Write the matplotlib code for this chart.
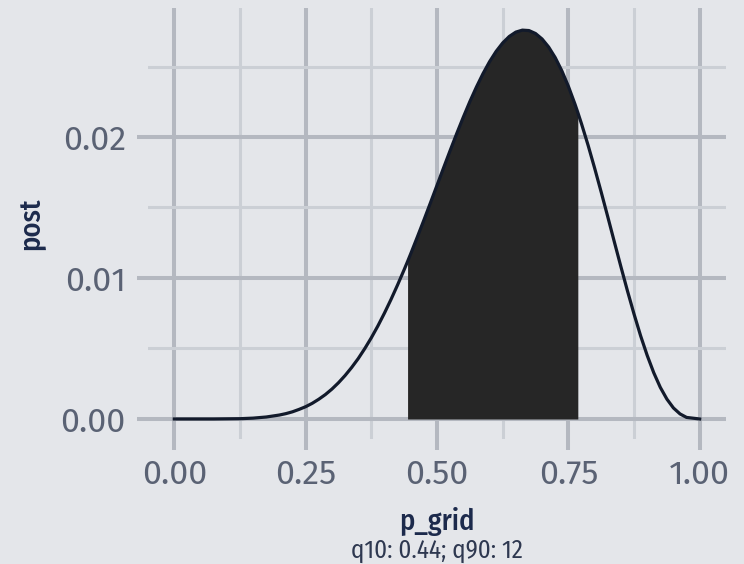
import numpy as np
import matplotlib
matplotlib.use("Agg")
import matplotlib.pyplot as plt
from matplotlib.ticker import FixedLocator

# posterior curve
p_grid = [0.000, 0.025, 0.050, 0.075, 0.100, 0.125, 0.150, 0.175, 0.200, 0.2125,
          0.225, 0.2375, 0.250, 0.2625, 0.275, 0.2875, 0.300, 0.3125, 0.325, 0.3375,
          0.350, 0.3625, 0.375, 0.3875, 0.400, 0.4125, 0.425, 0.4375, 0.444, 0.450,
          0.4625, 0.475, 0.4875, 0.500, 0.5125, 0.525, 0.5375, 0.550, 0.5625, 0.575,
          0.5875, 0.600, 0.6125, 0.625, 0.6375, 0.650, 0.6625, 0.675, 0.6875, 0.700,
          0.7125, 0.725, 0.7375, 0.750, 0.7625, 0.768, 0.775, 0.7875, 0.800, 0.8125,
          0.825, 0.8375, 0.850, 0.8625, 0.875, 0.8875, 0.900, 0.9125, 0.925, 0.9375,
          0.950, 0.9625, 0.975, 1.000]
post = [0.00000, 0.00000, 0.00000, 0.00000, 0.00001, 0.00002, 0.00006, 0.00014, 0.00028, 0.00038,
        0.00051, 0.00068, 0.00087, 0.00111, 0.00140, 0.00173, 0.00212, 0.00257, 0.00308, 0.00365,
        0.00428, 0.00499, 0.00576, 0.00660, 0.00751, 0.00848, 0.00951, 0.01059, 0.01117, 0.01172,
        0.01290, 0.01410, 0.01533, 0.01657, 0.01781, 0.01904, 0.02024, 0.02140, 0.02251, 0.02354,
        0.02449, 0.02534, 0.02607, 0.02667, 0.02713, 0.02744, 0.02758, 0.02755, 0.02734, 0.02695,
        0.02638, 0.02563, 0.02470, 0.02360, 0.02234, 0.02174, 0.02094, 0.01942, 0.01779, 0.01609,
        0.01434, 0.01256, 0.01080, 0.00908, 0.00744, 0.00590, 0.00451, 0.00328, 0.00224, 0.00141,
        0.00078, 0.00036, 0.00011, 0.00000]

# shaded interval (q10 .. q90)
q_lo, q_hi = 0.444, 0.768
caption = "q10: 0.44; q90: 12"

x_ticks = [0.0, 0.25, 0.5, 0.75, 1.0]
x_labels = ["0.00", "0.25", "0.50", "0.75", "1.00"]
x_minor = [0.125, 0.375, 0.625, 0.875]
y_ticks = [0.0, 0.01, 0.02]
y_labels = ["0.00", "0.01", "0.02"]
y_minor = [0.005, 0.015, 0.025]

BG = "#E4E6EA"
GRID_MAJOR = "#B4B8C0"
GRID_MINOR = "#CBCFD5"
TICK_TXT = "#5A6274"
TITLE_TXT = "#1C2A4C"
CAPTION_TXT = "#2E3850"
LINE = "#121A2B"
FILL = "#262626"
FONT = "Fira Sans Condensed"
TICK_FONT = "Fira Sans"

fig = plt.figure(figsize=(7.44, 5.64), dpi=100, facecolor=BG)
W, H = 744, 564
ax = fig.add_axes([148 / W, (H - 439) / H, (726 - 148) / W, (439 - 8) / H])
ax.set_facecolor(BG)

x = np.array(p_grid)
y = np.array(post)
ax.fill_between(x, y, where=(x >= q_lo) & (x <= q_hi), color=FILL, linewidth=0, zorder=2)
ax.plot(x, y, color=LINE, linewidth=2.3, solid_joinstyle="round", zorder=3)

ax.set_xlim(-0.05, 1.05)
ax.set_ylim(-0.00142, 0.02915)

ax.xaxis.set_major_locator(FixedLocator(x_ticks))
ax.xaxis.set_minor_locator(FixedLocator(x_minor))
ax.yaxis.set_major_locator(FixedLocator(y_ticks))
ax.yaxis.set_minor_locator(FixedLocator(y_minor))
ax.set_xticklabels(x_labels)
ax.set_yticklabels(y_labels)

ax.grid(which="major", color=GRID_MAJOR, linewidth=2.9)
ax.grid(which="minor", color=GRID_MINOR, linewidth=2.2)
ax.set_axisbelow(True)
for s in ax.spines.values():
    s.set_visible(False)

ax.tick_params(which="major", length=8, width=2.9, color=GRID_MAJOR,
               labelcolor=TICK_TXT, labelsize=24.5)
ax.tick_params(which="minor", length=0)
ax.tick_params(axis="x", pad=6)
ax.tick_params(axis="y", pad=8)
for lab in ax.get_xticklabels() + ax.get_yticklabels():
    lab.set_fontfamily(TICK_FONT)
    lab.set_fontweight("normal")

ax.set_xlabel("p_grid", fontsize=20.5, color=TITLE_TXT, family=FONT,
              fontweight="medium", labelpad=12)
ax.set_ylabel("post", fontsize=20.5, color=TITLE_TXT, family=FONT,
              fontweight="medium", labelpad=11)
fig.text(437 / W, 1 - 551 / H, caption, fontsize=18, color=CAPTION_TXT,
         family=FONT, ha="center", va="center")

fig.savefig("out.png", dpi=100, facecolor=BG)
